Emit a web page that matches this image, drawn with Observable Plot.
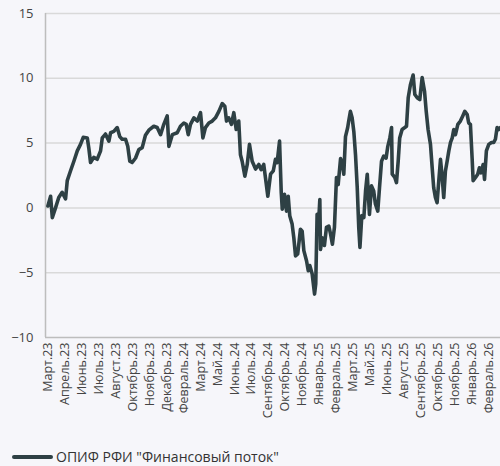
<!DOCTYPE html>
<html>
<head>
<meta charset="utf-8">
<script src="https://cdn.jsdelivr.net/npm/d3@7"></script>
<script src="https://cdn.jsdelivr.net/npm/@observablehq/plot@0.6"></script>
<style>
  html, body { margin: 0; padding: 0; background: #f6f6fa; }
  #chart { width: 500px; height: 466px; overflow: hidden; position: relative; background: #f6f6fa; }
  #legend { position: absolute; left: 12px; top: 449px; display: flex; align-items: center;
    font-family: "Open Sans", sans-serif; font-size: 14px; line-height: 16px; color: #333; white-space: nowrap; }
  #legend .sw { width: 41px; height: 4px; border-radius: 2px; background: #2e4044; margin-right: 3px; }
</style>
</head>
<body>
<div id="chart"></div>
<script>
const xLabels = ["Март.23","Апрель.23","Июнь.23","Июль.23","Август.23","Октябрь.23","Ноябрь.23","Декабрь.23","Февраль.24","Март.24","Май.24","Июнь.24","Июль.24","Сентябрь.24","Октябрь.24","Ноябрь.24","Январь.25","Февраль.25","Март.25","Май.25","Июнь.25","Август.25","Сентябрь.25","Октябрь.25","Ноябрь.25","Январь.26","Февраль.26"];
const yTicks = [-10, -5, 0, 5, 10, 15];
const seriesName = "ОПИФ РФИ \"Финансовый поток\"";

// position along the category axis (label index units)
const t = [0.02,0.18,0.28,0.47,0.66,0.86,1.06,1.16,1.35,1.55,1.75,1.94,2.10,2.34,2.43,2.53,2.72,2.92,3.12,3.22,3.41,3.61,3.71,3.90,4.10,4.25,4.39,4.59,4.72,4.84,4.98,5.18,5.37,5.57,5.76,5.96,6.25,6.45,6.65,6.84,7.04,7.14,7.34,7.63,7.82,8.02,8.16,8.28,8.41,8.61,8.81,9.00,9.14,9.29,9.49,9.69,9.88,10.08,10.28,10.43,10.53,10.66,10.82,10.96,11.10,11.25,11.35,11.45,11.61,11.75,11.88,12.04,12.24,12.43,12.57,12.72,12.82,12.96,13.12,13.28,13.41,13.51,13.65,13.75,13.81,13.94,14.06,14.16,14.25,14.39,14.49,14.59,14.72,14.88,14.98,15.08,15.24,15.34,15.43,15.57,15.71,15.78,15.86,15.92,16.02,16.06,16.16,16.29,16.41,16.55,16.65,16.76,16.88,17.00,17.10,17.24,17.34,17.43,17.53,17.66,17.72,17.82,17.92,18.02,18.12,18.22,18.31,18.38,18.49,18.61,18.71,18.81,18.94,19.06,19.19,19.29,19.43,19.53,19.65,19.78,19.92,20.02,20.14,20.24,20.28,20.43,20.53,20.63,20.72,20.86,21.02,21.12,21.22,21.35,21.51,21.61,21.75,21.90,22.04,22.18,22.28,22.39,22.53,22.63,22.72,22.82,22.92,23.02,23.12,23.22,23.31,23.41,23.51,23.61,23.71,23.81,23.90,24.00,24.14,24.29,24.43,24.55,24.69,24.78,24.88,24.98,25.04,25.18,25.31,25.41,25.51,25.63,25.71,25.82,25.96,26.12,26.25,26.35,26.45,26.55,26.65];
const v = [0.15,0.9,-0.75,0,0.8,1.2,0.7,2.1,2.85,3.6,4.4,4.9,5.45,5.4,4.6,3.5,3.9,3.75,4.4,5.4,5.7,5.15,5.8,5.9,6.2,5.5,5.3,5.3,4.75,3.6,3.5,3.85,4.5,4.65,5.6,6.0,6.3,6.2,5.65,6.45,7.1,4.75,5.65,5.8,6.3,6.55,6.45,5.65,6.45,6.95,6.7,7.35,5.4,6.2,6.55,6.7,6.95,7.45,8.05,7.85,6.7,6.95,6.45,7.35,6.05,6.7,4.1,3.6,2.45,3.35,4.9,3.6,3.0,3.35,2.95,3.35,2.35,0.9,2.6,2.85,3.75,3.5,5.15,1.2,-0.1,1.05,-0.25,0.9,-0.6,-1.25,-2.3,-3.7,-3.55,-1.65,-1.8,-3.3,-4.1,-4.85,-4.45,-5.1,-6.65,-5.85,-0.5,-1.8,0.65,-3.2,-2.3,-2.9,-1.5,-1.4,-2.0,-2.8,-1.5,2.35,1.8,3.8,3.5,2.6,5.5,6.2,6.7,7.45,6.95,5.9,4.1,1.6,-1.5,-3.05,-0.6,-0.75,1.3,2.6,-0.5,1.7,1.3,0.3,-0.25,1.55,3.6,4.0,3.85,4.75,5.4,6.2,2.6,2.35,1.95,3.6,5.4,6.05,6.2,6.3,8.5,9.5,10.25,8.75,8.5,8.35,10.05,9.0,7.45,6.05,4.9,3.1,1.55,0.8,0.4,2.1,3.75,2.35,0.8,2.85,3.6,4.4,5.05,5.4,6.05,5.65,6.45,6.7,7.1,7.45,7.2,6.55,6.45,3.85,2.1,2.35,2.6,3.1,2.7,3.35,2.2,4.4,4.9,5.05,5.05,5.3,6.2,6.05,6.2];

const data = t.map((d, i) => ({t: d, v: v[i]}));

const plot = Plot.plot({
  width: 500,
  height: 430,
  marginLeft: 45,
  marginRight: 0,
  marginTop: 13,
  marginBottom: 93,
  style: {background: "#f6f6fa", fontFamily: "Open Sans, sans-serif", fontSize: "12px", color: "#444", overflow: "visible"},
  x: {domain: [-0.12, 26.65]},
  y: {domain: [-10, 15]},
  marks: [
    Plot.gridY([-5, 0, 5, 10, 15], {stroke: "#d9d9d9", strokeOpacity: 1, strokeWidth: 1.5}),
    Plot.ruleY([-10], {stroke: "#bdbdbd", strokeWidth: 1.5}),
    Plot.ruleX([-0.12], {stroke: "#bdbdbd", strokeWidth: 1.5}),
    Plot.axisY({ticks: yTicks, tickSize: 0, tickPadding: 12, fontSize: 13, label: null}),
    Plot.axisX({ticks: d3.range(xLabels.length), tickFormat: i => xLabels[i], tickRotate: -90, tickSize: 0, tickPadding: 5, fontSize: 12.5, label: null}),
    Plot.line(data, {x: "t", y: "v", stroke: "#2e4044", strokeWidth: 3.6, strokeLinejoin: "round", clip: true})
  ]
});

const chart = document.getElementById("chart");
chart.appendChild(plot);
const legend = document.createElement("div");
legend.id = "legend";
legend.innerHTML = '<span class="sw"></span><span></span>';
legend.lastChild.textContent = seriesName;
chart.appendChild(legend);
</script>
</body>
</html>
